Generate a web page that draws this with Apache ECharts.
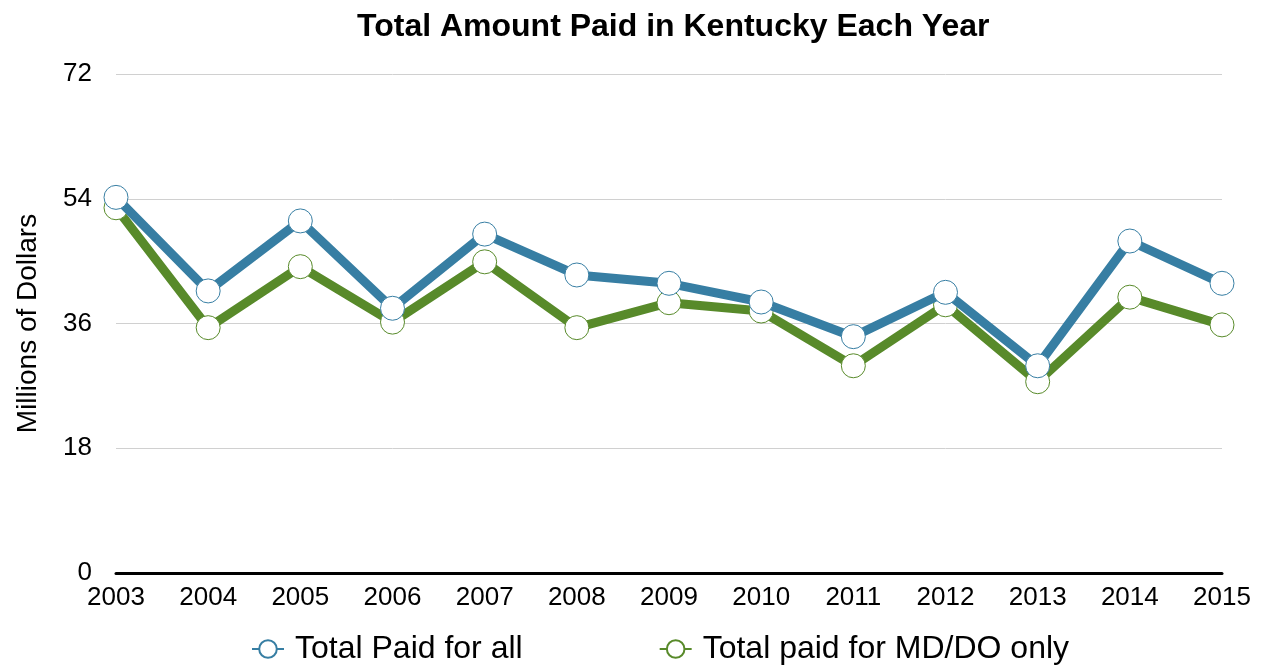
<!DOCTYPE html>
<html>
<head>
<meta charset="utf-8">
<script src="https://cdn.jsdelivr.net/npm/echarts@6/dist/echarts.min.js"></script>
<style>
  html, body { margin: 0; padding: 0; background: #fff; }
  #main { width: 1265px; height: 666px; }
</style>
</head>
<body>
<div id="main"></div>
<script>
// years on the x axis
var years = ['2003', '2004', '2005', '2006', '2007', '2008', '2009', '2010', '2011', '2012', '2013', '2014', '2015'];
// millions of dollars
var totalAll = [54.2, 40.7, 50.8, 38.2, 48.9, 43.0, 41.8, 39.1, 34.1, 40.5, 29.9, 47.9, 41.8];
var totalMdDo = [52.7, 35.4, 44.2, 36.2, 44.9, 35.4, 39.0, 37.8, 29.9, 38.7, 27.6, 39.8, 35.8];
var yTicks = [0, 18, 36, 54, 72];

var chart = echarts.init(document.getElementById('main'));
var font = 'Liberation Sans, Arial, Helvetica, sans-serif';

function makeSeries(name, data, color, z) {
  return {
    name: name,
    type: 'line',
    data: data,
    z: z,
    symbol: 'circle',
    symbolSize: 24,
    showAllSymbol: true,
    lineStyle: { color: color, width: 9 },
    itemStyle: { color: '#fff', borderColor: color, borderWidth: 1 },
    emphasis: { disabled: true }
  };
}

var option = {
  animation: false,
  textStyle: { fontFamily: font },
  title: {
    text: 'Total Amount Paid in Kentucky Each Year',
    left: 352,
    top: 6,
    textStyle: { fontSize: 32, fontWeight: 'bold', color: '#000', fontFamily: font }
  },
  legend: {
    top: 628,
    left: 246,
    itemGap: 136,
    itemWidth: 32,
    itemHeight: 22,
    textStyle: { fontSize: 32, color: '#000', fontFamily: font, padding: [0, 0, 0, 6] },
    data: ['Total Paid for all', 'Total paid for MD/DO only']
  },
  grid: { left: 116, right: 43, top: 74, bottom: 93 },
  xAxis: {
    type: 'category',
    data: years,
    boundaryGap: false,
    axisLine: { lineStyle: { color: '#000', width: 3 } },
    axisTick: { show: false },
    axisLabel: { fontSize: 26, color: '#000', margin: 12, fontFamily: font }
  },
  yAxis: {
    type: 'value',
    min: yTicks[0],
    max: yTicks[yTicks.length - 1],
    interval: 18,
    name: 'Millions of Dollars',
    nameLocation: 'middle',
    nameGap: 74,
    nameTextStyle: { fontSize: 28, color: '#000', fontFamily: font },
    axisLine: { show: false },
    axisTick: { show: false },
    axisLabel: { fontSize: 26, color: '#000', margin: 24, fontFamily: font },
    splitLine: { lineStyle: { color: '#d0d0d0', width: 1 } }
  },
  series: [
    makeSeries('Total Paid for all', totalAll, '#377ea3', 3),
    makeSeries('Total paid for MD/DO only', totalMdDo, '#588a2a', 2)
  ]
};

chart.setOption(option);
</script>
</body>
</html>
